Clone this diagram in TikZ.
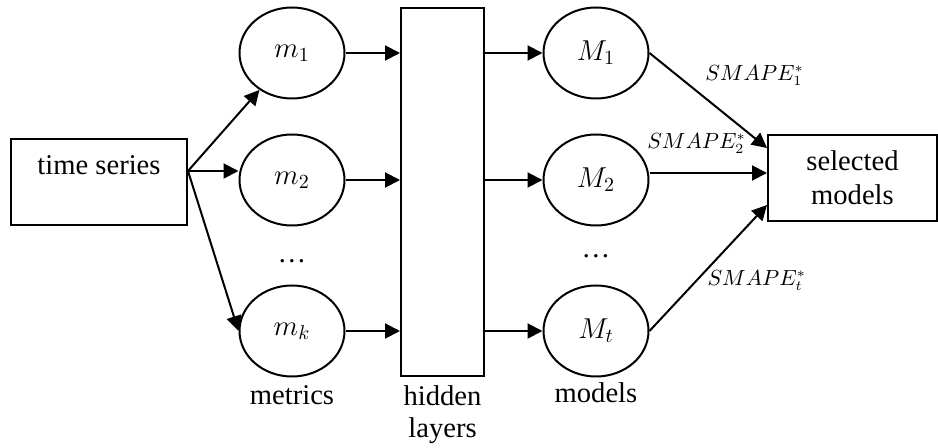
\documentclass[tikz,border=0pt]{standalone}
\usepackage{fontspec}
\setmainfont{Liberation Serif}
\usetikzlibrary{arrows.meta,positioning,shapes.geometric,calc}
\tikzset{
unit/.style={draw,ellipse,line width=1pt,minimum width=52.5pt,minimum height=45.5pt,inner sep=0pt,font=\fontsize{14}{16}\selectfont},
block/.style={draw,rectangle,line width=1pt,align=center},
caption/.style={align=center,inner sep=0pt},
flow/.style={-{Triangle[length=7.5pt,width=7.5pt]},line width=1pt},
score/.style={font=\fontsize{10.5}{12}\selectfont,inner sep=1pt}
}

\begin{document}
\begin{tikzpicture}[x=0.5pt,y=-0.5pt,font=\fontsize{14.3}{16}\selectfont]
\useasboundingbox (0,0) rectangle (938,448);
% input, hidden layers and output blocks
\node[block,minimum width=88pt,minimum height=43pt,text depth=17pt](ts) at (99,182){time series};
\node[block,minimum width=41.5pt,minimum height=184pt](hid) at (442.5,192){};
\node[block,minimum width=84.5pt,minimum height=43pt,font=\fontsize{14.3}{17}\selectfont](sel) at (852.5,178){selected\\models};
% metrics
\node[unit](m1) at (292,53){$m_1$};
\node[unit](m2) at (292,180){$m_2$};
\node[unit](mk) at (292,331){$m_k$};
\node(dm) at (292,261){\dots};
\node[caption,below=4pt of mk](metrics){metrics};
% models
\node[unit](M1) at (596,53){$M_1$};
\node[unit](M2) at (596,180){$M_2$};
\node[unit](Mt) at (596,331){$M_t$};
\node(dM) at (596,256){\dots};
\node[caption,below=2.5pt of Mt](models){models};
\node[caption,below=4pt of hid](hidlbl){hidden\\layers};
% connectors
\coordinate(fork) at ($(ts.east)+(0,-11)$);
\coordinate(top) at ($(sel.west)+(0,-30)$);
\coordinate(mid) at ($(sel.west)+(0,-5)$);
\coordinate(low) at ($(sel.west)+(0,27)$);
\draw[flow](fork)--(m1);
\draw[flow](fork)--(fork-|m2.west);
\draw[flow](fork)--(mk.west);
\foreach \n in {m1,m2,mk}{\draw[flow](\n.east)--(\n.east-|hid.west);}
\foreach \n in {M1,M2,Mt}{\draw[flow](\n.west-|hid.east)--(\n.west);}
\draw[flow](M1.east)--node[score,pos=.45,above right,yshift=3.5pt]{$SMAPE_1^*$}(top);
\draw[flow](M2.east|-mid)--node[score,pos=.4,above=8pt]{$SMAPE_2^*$}(mid);
\draw[flow](Mt.east)--node[score,pos=.4,right,xshift=4pt]{$SMAPE_t^*$}(low);
\end{tikzpicture}
\end{document}
